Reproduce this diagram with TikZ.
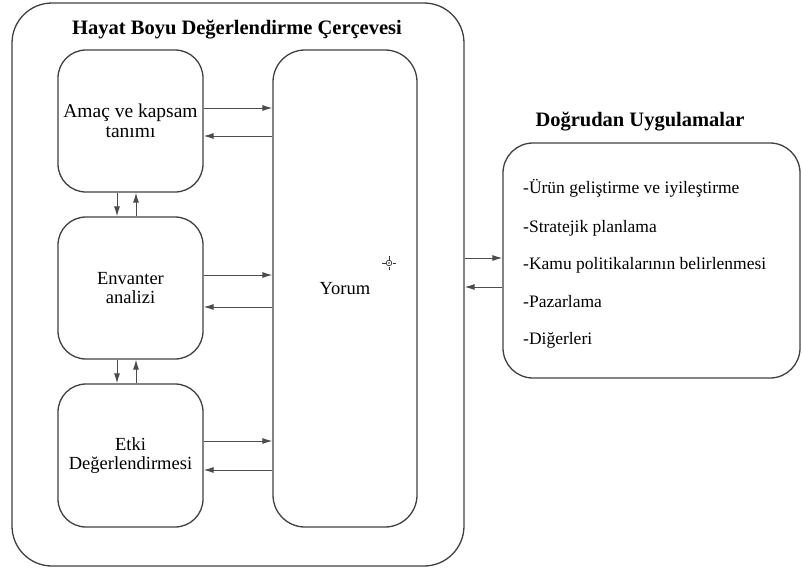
\documentclass[tikz,border=0pt]{standalone}
\usepackage{fontspec}
\setmainfont{Liberation Serif}
\usetikzlibrary{arrows.meta}
\tikzset{
  box/.style={draw=black!75, line width=1.3pt, rounded corners=28pt, inner sep=0pt, align=center, font=\fontsize{18.5}{19.5}\selectfont},
  conn/.style={draw=black!70, line width=1pt, -{Latex[length=10pt,width=6pt]}},
  item/.style={anchor=west, inner sep=0pt, font=\fontsize{17.5}{19}\selectfont},
  head/.style={inner sep=0pt, font=\bfseries\fontsize{20.5}{22}\selectfont}
}
\begin{document}
\begin{tikzpicture}[x=1pt,y=-1pt]
\useasboundingbox (0,0) rectangle (802,574);
% outer frame
\node[box, rounded corners=40pt, minimum width=452pt, minimum height=563pt] (outer) at (238,284.5) {};
\node[head] (title) at (237,30) {Hayat Boyu Değerlendirme Çerçevesi};
% inner boxes
\node[box, minimum width=145pt, minimum height=142pt, font=\fontsize{19.5}{19.5}\selectfont] (amac) at (130.5,121) {Amaç ve kapsam\\tanımı};
\node[box, minimum width=145pt, minimum height=142pt] (env) at (130.5,288) {Envanter\\analizi};
\node[box, minimum width=145pt, minimum height=143pt] (etki) at (130.5,455.5) {Etki\\Değerlendirmesi};
\node[box, rounded corners=32pt, minimum width=144pt, minimum height=477pt] (yorum) at (345,288.5) {Yorum};
% horizontal connectors
\draw[conn] (amac.east |- 0,108) -- (yorum.west |- 0,108);
\draw[conn] (yorum.west |- 0,136) -- (amac.east |- 0,136);
\draw[conn] (env.east |- 0,275) -- (yorum.west |- 0,275);
\draw[conn] (yorum.west |- 0,307) -- (env.east |- 0,307);
\draw[conn] (etki.east |- 0,441) -- (yorum.west |- 0,441);
\draw[conn] (yorum.west |- 0,470) -- (etki.east |- 0,470);
% vertical connectors
\draw[conn] (amac.south -| 117,0) -- (env.north -| 117,0);
\draw[conn] (env.north -| 136,0) -- (amac.south -| 136,0);
\draw[conn] (env.south -| 117,0) -- (etki.north -| 117,0);
\draw[conn] (etki.north -| 136,0) -- (env.south -| 136,0);
% crosshair mark
\draw[black!80, line width=0.7pt] (389,263) circle (2.8pt);
\fill[black!80] (389,263) circle (0.8pt);
\draw[black!80, line width=0.8pt] (389,256) -- (389,259.5) (389,266.5) -- (389,270) (382,263) -- (385.5,263) (392.5,263) -- (396,263);
% right box
\node[head] (apptitle) at (640,122) {Doğrudan Uygulamalar};
\node[box, rounded corners=30pt, minimum width=297pt, minimum height=235pt] (app) at (651.5,260.5) {};
\node[item] (i1) at (523,188) {-Ürün geliştirme ve iyileştirme};
\node[item] (i2) at (523,228) {-Stratejik planlama};
\node[item] (i3) at (523,265) {-Kamu politikalarının belirlenmesi};
\node[item] (i4) at (523,302) {-Pazarlama};
\node[item] (i5) at (523,340) {-Diğerleri};
% outer <-> right
\draw[conn] (outer.east |- 0,258) -- (app.west |- 0,258);
\draw[conn] (app.west |- 0,287) -- (outer.east |- 0,287);
\end{tikzpicture}
\end{document}
